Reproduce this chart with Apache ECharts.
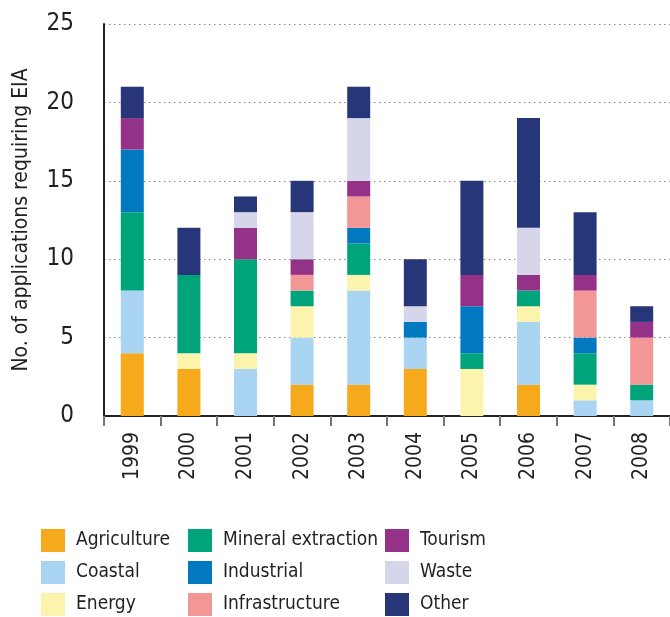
<!DOCTYPE html>
<html>
<head>
<meta charset="utf-8">
<script src="https://cdn.jsdelivr.net/npm/echarts@6/dist/echarts.min.js"></script>
<style>
  html, body { margin: 0; padding: 0; background: #fff; }
  #chart { width: 670px; height: 617px; }
</style>
</head>
<body>
<div id="chart"></div>
<script>
// Applications requiring EIA by sector, 1999-2008
const years = ['1999', '2000', '2001', '2002', '2003', '2004', '2005', '2006', '2007', '2008'];

const agriculture      = [4, 3, 0, 2, 2, 3, 0, 2, 0, 0];
const coastal          = [4, 0, 3, 3, 6, 2, 0, 4, 1, 1];
const energy           = [0, 1, 1, 2, 1, 0, 3, 1, 1, 0];
const mineralExtraction= [5, 5, 6, 1, 2, 0, 1, 1, 2, 1];
const industrial       = [4, 0, 0, 0, 1, 1, 3, 0, 1, 0];
const infrastructure   = [0, 0, 0, 1, 2, 0, 0, 0, 3, 3];
const tourism          = [2, 0, 2, 1, 1, 0, 2, 1, 1, 1];
const waste            = [0, 0, 1, 3, 4, 1, 0, 3, 0, 0];
const other            = [2, 3, 1, 2, 2, 3, 6, 7, 4, 1];

const yTicks = { min: 0, max: 25, interval: 5 };

const sectors = [
  { name: 'Agriculture',        data: agriculture,       color: '#F6A91B' },
  { name: 'Coastal',            data: coastal,           color: '#A9D4F2' },
  { name: 'Energy',             data: energy,            color: '#FCF4AC' },
  { name: 'Mineral extraction', data: mineralExtraction, color: '#00A47A' },
  { name: 'Industrial',         data: industrial,        color: '#0079C1' },
  { name: 'Infrastructure',     data: infrastructure,    color: '#F29796' },
  { name: 'Tourism',            data: tourism,           color: '#933287' },
  { name: 'Waste',              data: waste,             color: '#D6D6EB' },
  { name: 'Other',              data: other,             color: '#273679' }
];

const FONT = "'DejaVu Sans Condensed', 'Liberation Sans Narrow', 'DejaVu Sans', sans-serif";
const TEXT = '#231F20';

// One vertical legend column of three sectors
function legendColumn(names, left) {
  return {
    orient: 'vertical',
    left: left,
    top: 529,
    height: 100,
    padding: 0,
    icon: 'rect',
    itemWidth: 24,
    itemHeight: 23,
    itemGap: 9,
    selectedMode: false,
    data: names,
    textStyle: { fontFamily: FONT, fontSize: 19, color: TEXT, padding: [0, 0, 0, 6] }
  };
}

const chart = echarts.init(document.getElementById('chart'), null, { renderer: 'canvas' });

chart.setOption({
  animation: false,
  textStyle: { fontFamily: FONT },
  grid: { left: 104, right: 0, top: 24, bottom: 201, containLabel: false },
  legend: [
    legendColumn(['Agriculture', 'Coastal', 'Energy'], 41),
    legendColumn(['Mineral extraction', 'Industrial', 'Infrastructure'], 188),
    legendColumn(['Tourism', 'Waste', 'Other'], 385)
  ],
  xAxis: {
    type: 'category',
    data: years,
    axisLine: { show: true, lineStyle: { color: '#222', width: 2 } },
    axisTick: { show: true, length: 10, lineStyle: { color: '#777', width: 2 } },
    axisLabel: {
      rotate: 90,
      margin: 16,
      fontFamily: FONT,
      fontSize: 21,
      color: TEXT
    }
  },
  yAxis: {
    type: 'value',
    min: yTicks.min,
    max: yTicks.max,
    interval: yTicks.interval,
    name: 'No. of applications requiring EIA',
    nameLocation: 'middle',
    nameRotate: 90,
    nameGap: 72,
    nameTextStyle: { fontFamily: FONT, fontSize: 21, color: TEXT },
    axisLine: { show: true, lineStyle: { color: '#222', width: 2 } },
    axisTick: { show: false },
    axisLabel: { margin: 30, fontFamily: FONT, fontSize: 24, color: TEXT },
    splitLine: { show: true, lineStyle: { color: '#888', width: 1, type: [1.5, 3.5] } }
  },
  series: sectors.map(s => ({
    name: s.name,
    type: 'bar',
    stack: 'total',
    barWidth: 23,
    data: s.data,
    itemStyle: { color: s.color }
  }))
});
</script>
</body>
</html>
